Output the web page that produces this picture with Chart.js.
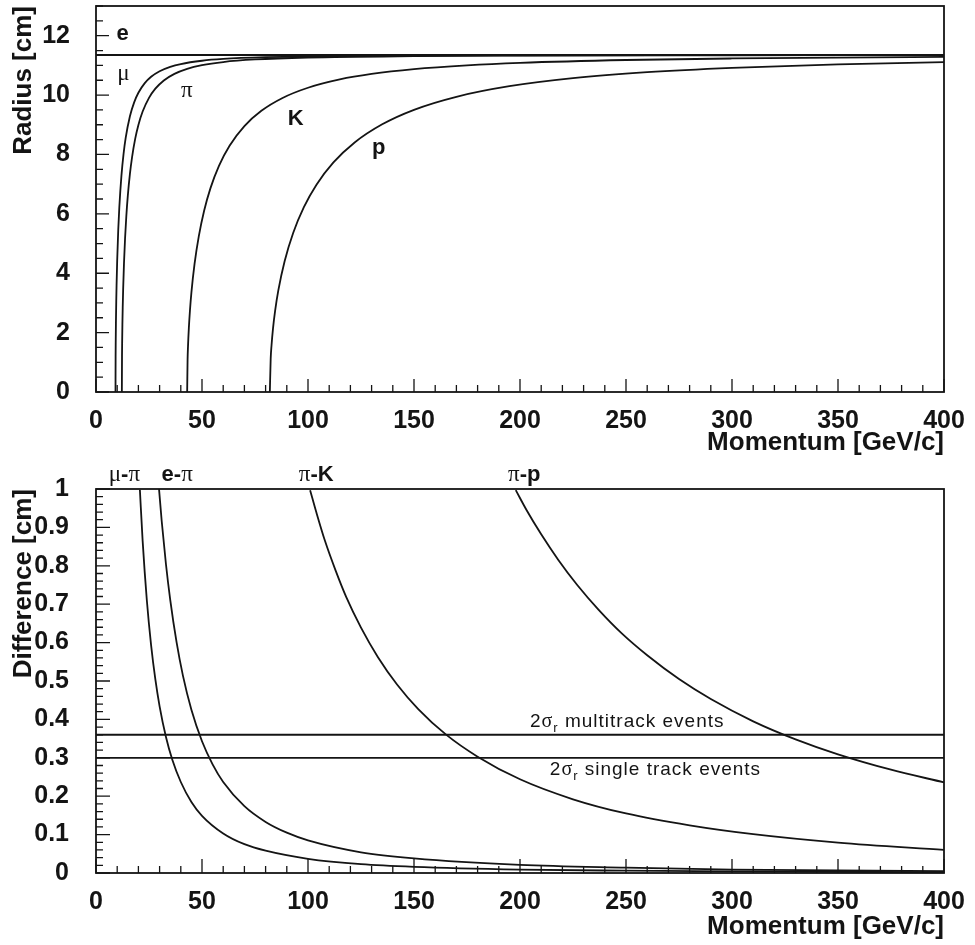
<!DOCTYPE html>
<html>
<head>
<meta charset="utf-8">
<title>Ring radius and radius difference vs momentum</title>
<script src="https://cdn.jsdelivr.net/npm/chart.js@4.4.1/dist/chart.umd.min.js"></script>
<style>
    body { margin: 0; background: #fff; }
    #radius-chart { position: absolute; left: 0; top: 0; }
    #difference-chart { position: absolute; left: 0; top: 460px; }
</style>
</head>
<body>
<canvas id="radius-chart" width="975" height="460"></canvas>
<canvas id="difference-chart" width="975" height="485"></canvas>
<script>
// ---- top panel: ring radius [cm] vs momentum [GeV/c] ----
const momentumE = [0, 400];
const radiusE = [11.35, 11.35];

const momentumMu = [9.2, 9.25, 9.3, 9.4, 9.55, 9.7, 10, 10.5, 11, 12, 13, 14, 16, 18, 20, 23, 26, 30, 35, 40, 50, 60, 80, 100, 150, 200, 300, 400];
const radiusMu = [0, 1.178, 1.66, 2.329, 3.045, 3.597, 4.448, 5.47, 6.222, 7.287, 8.019, 8.555, 9.286, 9.756, 10.078, 10.402, 10.616, 10.803, 10.951, 11.046, 11.156, 11.216, 11.275, 11.302, 11.329, 11.338, 11.345, 11.347];

const momentumPi = [12.2, 12.27, 12.33, 12.45, 12.6, 12.8, 13.2, 13.7, 14.3, 15, 16, 17, 18.5, 20, 22, 25, 28, 32, 37, 43, 50, 60, 75, 100, 150, 200, 300, 400];
const radiusPi = [0, 1.21, 1.644, 2.263, 2.837, 3.434, 4.334, 5.164, 5.921, 6.603, 7.343, 7.904, 8.532, 8.994, 9.445, 9.907, 10.216, 10.493, 10.715, 10.884, 11.007, 11.113, 11.199, 11.265, 11.312, 11.329, 11.341, 11.345];

const momentumK = [43, 43.2, 43.4, 43.8, 44.3, 45, 46.5, 48.5, 51, 54, 58, 63, 70, 78, 88, 100, 115, 130, 150, 175, 200, 250, 300, 350, 400];
const radiusK = [0, 1.091, 1.537, 2.16, 2.729, 3.346, 4.32, 5.25, 6.103, 6.866, 7.617, 8.295, 8.956, 9.47, 9.903, 10.247, 10.527, 10.711, 10.874, 11.002, 11.085, 11.181, 11.233, 11.264, 11.284];

const momentumP = [82, 82.4, 82.8, 83.5, 84.5, 86, 89, 93, 98, 104, 112, 122, 135, 150, 170, 195, 225, 260, 300, 350, 400];
const radiusP = [0, 1.117, 1.574, 2.142, 2.741, 3.421, 4.412, 5.355, 6.216, 6.981, 7.731, 8.404, 9.016, 9.504, 9.942, 10.298, 10.569, 10.771, 10.918, 11.034, 11.109];

// ---- bottom panel: radius difference [cm] vs momentum ----
const momentumMuPi = [20.7, 22, 24, 26, 28, 30, 33, 36, 40, 45, 50, 60, 70, 80, 100, 125, 150, 200, 250, 300, 400];
const diffMuPi = [0.998, 0.865, 0.709, 0.593, 0.504, 0.434, 0.354, 0.295, 0.237, 0.185, 0.149, 0.103, 0.075, 0.058, 0.037, 0.023, 0.016, 0.009, 0.006, 0.004, 0.002];

const momentumEPi = [29.7, 31, 33, 35, 38, 41, 45, 50, 55, 60, 70, 80, 90, 100, 125, 150, 200, 250, 300, 400];
const diffEPi = [1.002, 0.916, 0.804, 0.712, 0.601, 0.514, 0.425, 0.343, 0.283, 0.237, 0.174, 0.133, 0.105, 0.085, 0.054, 0.038, 0.021, 0.014, 0.009, 0.005];

const momentumPiK = [101, 104, 108, 113, 118, 125, 133, 142, 152, 165, 180, 200, 225, 250, 280, 310, 350, 400];
const diffPiK = [0.997, 0.938, 0.865, 0.788, 0.719, 0.639, 0.562, 0.491, 0.427, 0.361, 0.303, 0.244, 0.192, 0.155, 0.124, 0.101, 0.079, 0.060];

const momentumPiP = [198, 203, 210, 218, 227, 237, 248, 260, 275, 290, 310, 330, 350, 375, 400];
const diffPiP = [0.997, 0.946, 0.882, 0.816, 0.750, 0.686, 0.624, 0.567, 0.505, 0.453, 0.395, 0.348, 0.309, 0.269, 0.236];

const momentumLimit = [0, 400];
const multitrackLimit = [0.36, 0.36];
const singleTrackLimit = [0.30, 0.30];

// ---- tick values ----
const momentumTicks = [0, 50, 100, 150, 200, 250, 300, 350, 400];
const radiusTicks = [0, 2, 4, 6, 8, 10, 12];
const differenceTicks = [0, 0.1, 0.2, 0.3, 0.4, 0.5, 0.6, 0.7, 0.8, 0.9, 1];

const INK = '#141414';
const SANS = '"Liberation Sans", Arial, Helvetica, sans-serif';
const SERIF = '"Liberation Serif", "Times New Roman", serif';
const tickFont = { family: SANS, size: 25, weight: 'bold', lineHeight: 1.2 };
const titleFont = { family: SANS, size: 26, weight: 'bold', lineHeight: 1.2 };
const BOLD = `bold 22px ${SANS}`;
const GREEK = `23px ${SERIF}`;

const toPoints = (xs, ys) => xs.map((v, i) => ({ x: v, y: ys[i] }));

function curve(xs, ys) {
    return {
        data: toPoints(xs, ys),
        showLine: true,
        borderColor: INK,
        borderWidth: 1.8,
        pointRadius: 0,
        fill: false,
        cubicInterpolationMode: 'monotone'
    };
}

// box round the plot + ROOT style inward ticks on left and bottom axes
const frameTicks = {
    id: 'frameTicks',
    afterDatasetsDraw(chart, args, opts) {
        const { ctx, chartArea: a, scales: { x, y } } = chart;
        ctx.save();
        ctx.strokeStyle = INK;
        ctx.lineWidth = 1.3;
        ctx.beginPath();
        const walk = (scale, minor, major, draw) => {
            const n = Math.round((scale.max - scale.min) / minor);
            for (let i = 0; i <= n; i++) {
                const v = scale.min + i * minor;
                const r = v / major;
                const isMajor = Math.abs(r - Math.round(r)) < 1e-6;
                draw(scale.getPixelForValue(v), isMajor ? opts.majorLen : opts.minorLen);
            }
        };
        walk(x, opts.xMinor, opts.xMajor, (px, len) => { ctx.moveTo(px, a.bottom); ctx.lineTo(px, a.bottom - len); });
        walk(y, opts.yMinor, opts.yMajor, (py, len) => { ctx.moveTo(a.left, py); ctx.lineTo(a.left + len, py); });
        ctx.stroke();
        ctx.lineWidth = 1.8;
        ctx.strokeRect(a.left, a.top, a.right - a.left, a.bottom - a.top);
        ctx.restore();
    }
};

// text labels placed in data coordinates, made of several font runs
const curveLabels = {
    id: 'curveLabels',
    afterDraw(chart, args, opts) {
        const { ctx, scales: { x, y } } = chart;
        ctx.save();
        ctx.fillStyle = INK;
        ctx.textBaseline = 'alphabetic';
        ctx.textAlign = 'left';
        opts.items.forEach(item => {
            ctx.letterSpacing = item.spacing || '0px';
            const runs = item.parts.map(p => {
                ctx.font = p.font;
                return { ...p, w: ctx.measureText(p.text).width };
            });
            const total = runs.reduce((s, r) => s + r.w, 0);
            let px = x.getPixelForValue(item.x) - total / 2;
            const py = y.getPixelForValue(item.y);
            runs.forEach(r => {
                ctx.font = r.font;
                ctx.fillText(r.text, px, py + (r.dy || 0));
                px += r.w;
            });
        });
        ctx.restore();
    }
};

function makeScales(o) {
    return {
        x: {
            type: 'linear',
            min: 0,
            max: 400,
            grid: { display: false },
            border: { display: false },
            afterBuildTicks: s => { s.ticks = momentumTicks.map(v => ({ value: v })); },
            afterFit: s => { s.height = o.xHeight; s.paddingLeft = 0; s.paddingRight = 0; },
            ticks: { font: tickFont, color: INK, padding: 6, maxRotation: 0, autoSkip: false, callback: v => String(v) },
            title: { display: true, text: 'Momentum [GeV/c]', align: 'end', color: INK, font: titleFont, padding: { top: 0, bottom: o.xTitlePad } }
        },
        y: {
            type: 'linear',
            min: o.yMin,
            max: o.yMax,
            grid: { display: false },
            border: { display: false },
            afterBuildTicks: s => { s.ticks = o.yTicks.map(v => ({ value: v })); },
            // fixed axis width, no extra room above/below for the end labels
            afterFit: s => { s.width = 96; s.paddingTop = 0; s.paddingBottom = 0; },
            ticks: { font: tickFont, color: INK, padding: o.yPad, autoSkip: false, callback: v => String(+v.toFixed(2)) },
            title: { display: true, text: o.yTitle, align: 'end', color: INK, font: titleFont, padding: { top: 8, bottom: 0 } }
        }
    };
}

const radiusChart = new Chart(document.getElementById('radius-chart'), {
    type: 'scatter',
    data: {
        datasets: [
            curve(momentumE, radiusE),
            curve(momentumMu, radiusMu),
            curve(momentumPi, radiusPi),
            curve(momentumK, radiusK),
            curve(momentumP, radiusP)
        ]
    },
    options: {
        responsive: false,
        animation: false,
        events: [],
        layout: { padding: { left: 0, right: 31, top: 6, bottom: 0 } },
        scales: makeScales({ xHeight: 68, xTitlePad: 2, yMin: 0, yMax: 13, yTicks: radiusTicks, yPad: 18, yTitle: 'Radius [cm]' }),
        plugins: {
            legend: { display: false },
            tooltip: { enabled: false },
            frameTicks: { xMinor: 10, xMajor: 50, yMinor: 0.5, yMajor: 2, majorLen: 13, minorLen: 7 },
            curveLabels: {
                items: [
                    { x: 12.5, y: 11.85, parts: [{ text: 'e', font: BOLD }] },
                    { x: 12.9, y: 10.5, parts: [{ text: 'μ', font: GREEK }] },
                    { x: 42.8, y: 9.94, parts: [{ text: 'π', font: GREEK }] },
                    { x: 94.2, y: 8.99, parts: [{ text: 'K', font: BOLD }] },
                    { x: 133.3, y: 8.01, parts: [{ text: 'p', font: BOLD }] }
                ]
            }
        }
    },
    plugins: [frameTicks, curveLabels]
});

const SMALL = `19px ${SANS}`;
const SMALL_GREEK = `20px ${SERIF}`;
const SUB = `13px ${SANS}`;

const differenceChart = new Chart(document.getElementById('difference-chart'), {
    type: 'scatter',
    data: {
        datasets: [
            curve(momentumMuPi, diffMuPi),
            curve(momentumEPi, diffEPi),
            curve(momentumPiK, diffPiK),
            curve(momentumPiP, diffPiP),
            curve(momentumLimit, multitrackLimit),
            curve(momentumLimit, singleTrackLimit)
        ]
    },
    options: {
        responsive: false,
        animation: false,
        events: [],
        layout: { padding: { left: 0, right: 31, top: 29, bottom: 0 } },
        scales: makeScales({ xHeight: 72, xTitlePad: 3, yMin: 0, yMax: 1, yTicks: differenceTicks, yPad: 19, yTitle: 'Difference [cm]' }),
        plugins: {
            legend: { display: false },
            tooltip: { enabled: false },
            frameTicks: { xMinor: 10, xMajor: 50, yMinor: 0.02, yMajor: 0.1, majorLen: 14, minorLen: 7 },
            curveLabels: {
                items: [
                    { x: 13.4, y: 1.02, parts: [{ text: 'μ', font: GREEK }, { text: '-', font: BOLD }, { text: 'π', font: GREEK }] },
                    { x: 38.3, y: 1.02, parts: [{ text: 'e', font: BOLD }, { text: '-', font: BOLD }, { text: 'π', font: GREEK }] },
                    { x: 103.9, y: 1.02, parts: [{ text: 'π', font: GREEK }, { text: '-', font: BOLD }, { text: 'K', font: BOLD }] },
                    { x: 202, y: 1.02, parts: [{ text: 'π', font: GREEK }, { text: '-', font: BOLD }, { text: 'p', font: BOLD }] },
                    { x: 250.6, y: 0.379, spacing: '1px', parts: [{ text: '2', font: SMALL }, { text: 'σ', font: SMALL_GREEK }, { text: 'r', font: SUB, dy: 5 }, { text: ' multitrack events', font: SMALL }] },
                    { x: 263.9, y: 0.254, spacing: '1px', parts: [{ text: '2', font: SMALL }, { text: 'σ', font: SMALL_GREEK }, { text: 'r', font: SUB, dy: 5 }, { text: ' single track events', font: SMALL }] }
                ]
            }
        }
    },
    plugins: [frameTicks, curveLabels]
});
</script>
</body>
</html>
